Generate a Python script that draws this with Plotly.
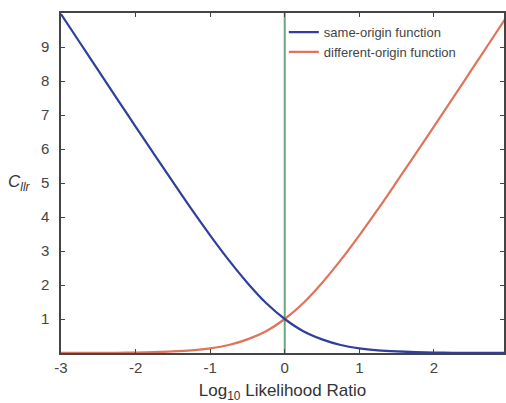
import plotly.graph_objects as go

# Log10 likelihood ratio positions
log_lr = [-3, -2.75, -2.5, -2.25, -2, -1.75, -1.5, -1.25, -1, -0.75, -0.5, -0.25,
          0, 0.25, 0.5, 0.75, 1, 1.25, 1.5, 1.75, 2, 2.25, 2.5, 2.75, 3]

# same-origin cost (falls from ~10 to 0)
same_origin = [9.97, 9.14, 8.31, 7.48, 6.66, 5.84, 5.03, 4.23, 3.46, 2.73, 2.06, 1.47,
               1.00, 0.64, 0.40, 0.236, 0.138, 0.079, 0.045, 0.025, 0.014, 0.008, 0.005, 0.003, 0.001]

# different-origin cost (rises from 0 to ~10)
diff_origin = [0.001, 0.003, 0.005, 0.008, 0.014, 0.025, 0.045, 0.079, 0.138, 0.236, 0.40, 0.64,
               1.00, 1.47, 2.06, 2.73, 3.46, 4.23, 5.03, 5.84, 6.66, 7.48, 8.31, 9.14, 9.97]

y_ticks = [1, 2, 3, 4, 5, 6, 7, 8, 9]
x_ticks = [-3, -2, -1, 0, 1, 2, 3]
x_labels = ["-3", "-2", "-1", "0", "1", "2", "3"]

FONT = "Arial, Liberation Sans, sans-serif"

fig = go.Figure()

# vertical reference line at log LR = 0
fig.add_trace(go.Scatter(x=[0, 0], y=[0, 10], mode="lines",
                         line=dict(color="#6aa77e", width=2), showlegend=False, hoverinfo="skip"))

fig.add_trace(go.Scatter(x=log_lr, y=diff_origin, mode="lines", name="different-origin function",
                         line=dict(color="#e0735a", width=2.2, shape="spline")))
fig.add_trace(go.Scatter(x=log_lr, y=same_origin, mode="lines", name="same-origin function",
                         line=dict(color="#2e3f9c", width=2.2, shape="spline")))

axis_style = dict(showline=True, linecolor="#444", linewidth=1.5, mirror="ticks",
                  ticks="inside", ticklen=4, tickcolor="#444", showgrid=False, zeroline=False,
                  automargin=False,
                  tickfont=dict(family=FONT, size=15, color="#444"))

fig.update_xaxes(range=[-3, 2.94], tickvals=x_ticks, ticktext=x_labels,
                 title=dict(text="Log<sub>10</sub> Likelihood Ratio", standoff=10,
                            font=dict(family=FONT, size=17, color="#333")),
                 **axis_style)
fig.update_yaxes(range=[0, 10], tickvals=y_ticks, ticklabelstandoff=7,
                 **axis_style)

# horizontal y-axis label
fig.add_annotation(text="<i>C</i><sub><i>llr</i></sub>", xref="paper", yref="paper",
                   x=-0.063, y=0.5, xanchor="right", yanchor="middle", showarrow=False,
                   font=dict(family=FONT, size=17, color="#333"))

fig.update_layout(
    width=506, height=403,
    margin=dict(l=61, r=2, t=13, b=50, autoexpand=False),
    plot_bgcolor="white", paper_bgcolor="white",
    legend=dict(x=0.503, y=0.988, xanchor="left", yanchor="top", traceorder="reversed",
                bgcolor="rgba(0,0,0,0)", font=dict(family=FONT, size=13, color="#444"),
                itemwidth=30, tracegroupgap=0),
)

# drop the page's default body margin so the figure fills the window exactly
fig.write_html("out.html", config={"displayModeBar": False},
               post_script="document.body.style.margin='0';document.body.style.overflow='hidden';")
